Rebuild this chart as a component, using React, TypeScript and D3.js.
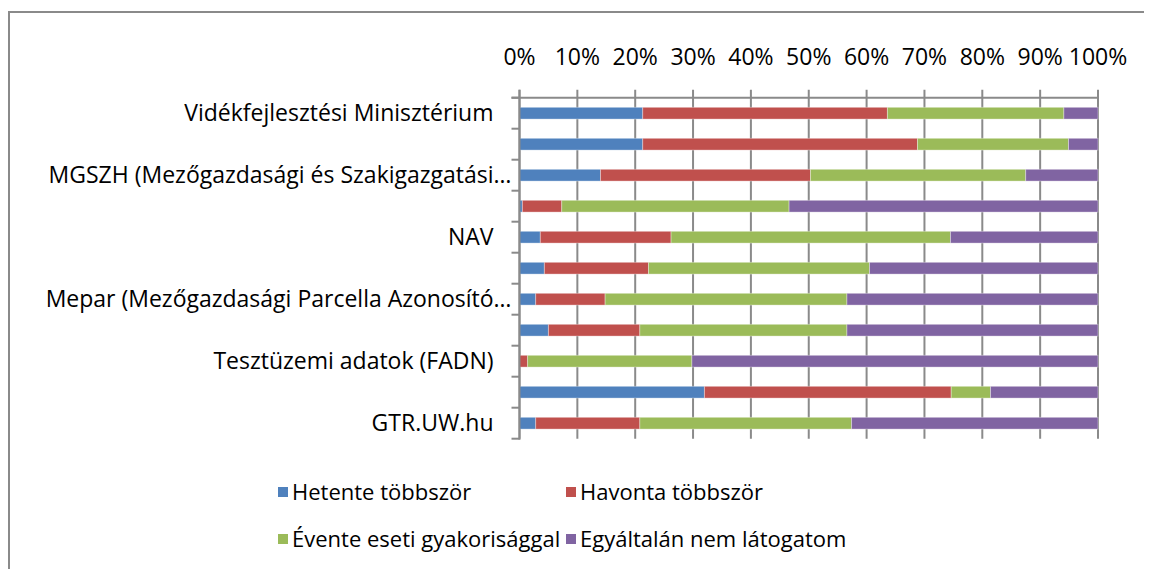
import * as React from "react";
import * as d3 from "d3";

// categories top to bottom; every second label is hidden by the axis in the original
const categories: string[] = [
  "Vidékfejlesztési Minisztérium",
  "",
  "MGSZH (Mezőgazdasági és Szakigazgatási…",
  "",
  "NAV",
  "",
  "Mepar (Mezőgazdasági Parcella Azonosító…",
  "",
  "Tesztüzemi adatok (FADN)",
  "",
  "GTR.UW.hu"
];
const seriesNames: string[] = [
  "Hetente többször",
  "Havonta többször",
  "Évente eseti gyakorisággal",
  "Egyáltalán nem látogatom"
];
const hetente: number[] = [21.3, 21.3, 14.0, 0.5, 3.6, 4.3, 2.8, 5.0, 0, 32.0, 2.8];
const havonta: number[] = [42.3, 47.5, 36.3, 6.8, 22.6, 18.0, 12.0, 15.8, 1.4, 42.7, 18.0];
const evente: number[] = [30.5, 26.1, 37.2, 39.3, 48.3, 38.2, 41.8, 35.8, 28.4, 6.8, 36.6];
const egyaltalan: number[] = [5.9, 5.1, 12.5, 53.4, 25.5, 39.5, 43.4, 43.4, 70.2, 18.6, 42.6];
const colors: string[] = ["#4F81BD", "#C0504D", "#9BBB59", "#8064A2"];
const xTicks: number[] = [0, 0.1, 0.2, 0.3, 0.4, 0.5, 0.6, 0.7, 0.8, 0.9, 1];

const W = 1144;
const H = 561;
const FONT = "'Open Sans', sans-serif";
const FS = 23;
const LEGEND_FS = 22;

const rows = categories.map((c, i) => {
  const total = hetente[i] + havonta[i] + evente[i] + egyaltalan[i];
  return {
    idx: i,
    s0: hetente[i] / total,
    s1: havonta[i] / total,
    s2: evente[i] / total,
    s3: egyaltalan[i] / total
  };
});

const stacked = d3.stack<any>().keys(["s0", "s1", "s2", "s3"])(rows);

const x = d3.scaleLinear().domain([0, 1]).range([511.5, 1090]);
const y = d3
  .scaleBand<number>()
  .domain(categories.map((c, i) => i))
  .range([89.7, 430.7])
  .paddingInner(0.62)
  .paddingOuter(0.31);
const step = y.step();
const top = y.range()[0];
const bottom = y.range()[1];
const pct = d3.format(".0%");

export default function App() {
  const grid = "#8a8a8a";
  return (
    <svg width={W} height={H} style={{ display: "block" }}>
      <rect x={1} y={4} width={W + 50} height={H + 50} fill="white" stroke={grid} strokeWidth={2} />

      {/* tick labels */}
      {xTicks.map(t => (
        <text
          key={"tl" + t}
          x={x(t)}
          y={57}
          textAnchor="middle"
          fontFamily={FONT}
          fontSize={FS}
          fill="#000"
        >
          {pct(t)}
        </text>
      ))}

      {/* gridlines and top ticks */}
      {xTicks.map(t => (
        <line key={"g" + t} x1={x(t)} x2={x(t)} y1={top - 8} y2={bottom} stroke={grid} strokeWidth={2} />
      ))}
      <line x1={x(0) - 8} x2={x(1)} y1={top} y2={top} stroke={grid} strokeWidth={2} />
      {d3.range(categories.length + 1).map(k => (
        <line
          key={"yt" + k}
          x1={x(0) - 8}
          x2={x(0)}
          y1={top + k * step}
          y2={top + k * step}
          stroke={grid}
          strokeWidth={2}
        />
      ))}

      {/* bars */}
      {stacked.map((layer, si) => (
        <g key={"s" + si} fill={colors[si]}>
          {layer.map((d, i) => {
            const w = x(d[1]) - x(d[0]);
            if (w <= 0) return null;
            return (
              <rect
                key={i}
                x={x(d[0])}
                y={y(i)}
                width={w}
                height={y.bandwidth()}
                stroke="#ffffff"
                strokeOpacity={0.35}
                strokeWidth={1}
              />
            );
          })}
        </g>
      ))}
      <line x1={x(0)} x2={x(0)} y1={top - 8} y2={bottom + 1} stroke={grid} strokeWidth={2} />

      {/* category labels */}
      {categories.map((c, i) =>
        c ? (
          <text
            key={"c" + i}
            x={c.endsWith("…") ? x(0) - 8 : x(0) - 26}
            y={(y(i) as number) + y.bandwidth() / 2}
            dy="0.35em"
            textAnchor="end"
            fontFamily={FONT}
            fontSize={FS}
            fill="#000"
          >
            {c}
          </text>
        ) : null
      )}

      {/* legend */}
      {seriesNames.map((name, i) => {
        const lx = i % 2 === 0 ? 270 : 558;
        const ly = i < 2 ? 484 : 531;
        return (
          <g key={"l" + i}>
            <rect x={lx} y={ly - 5} width={10} height={10} fill={colors[i]} />
            <text x={lx + 14} y={ly} dy="0.35em" fontFamily={FONT} fontSize={LEGEND_FS} fill="#000">
              {name}
            </text>
          </g>
        );
      })}
    </svg>
  );
}
